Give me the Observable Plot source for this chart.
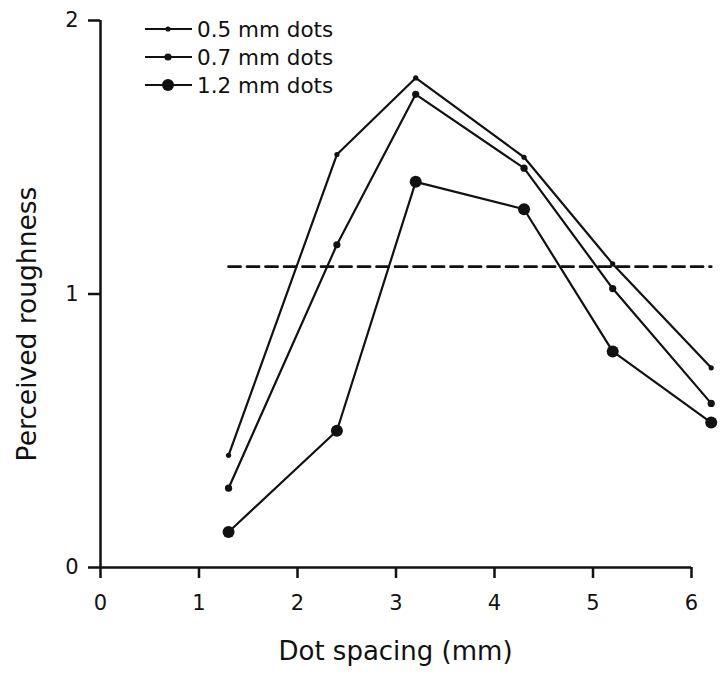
<!DOCTYPE html>
<html>
<head>
<meta charset="utf-8">
<script src="https://cdn.jsdelivr.net/npm/d3@7"></script>
<script src="https://cdn.jsdelivr.net/npm/@observablehq/plot@0.6"></script>
<style>
  html, body { margin: 0; padding: 0; background: #fff; }
  #chart svg { display: block; }
</style>
</head>
<body>
<div id="chart"></div>
<script>
// ---- data ----
const spacing = [1.3, 2.4, 3.2, 4.3, 5.2, 6.2];
const rough05 = [0.41, 1.51, 1.79, 1.50, 1.11, 0.73];
const rough07 = [0.29, 1.18, 1.73, 1.46, 1.02, 0.60];
const rough12 = [0.13, 0.50, 1.41, 1.31, 0.79, 0.53];
const seriesNames = ["0.5 mm dots", "0.7 mm dots", "1.2 mm dots"];
const referenceLevel = 1.10;
const referenceRange = [1.3, 6.2];
const xTicks = [0, 1, 2, 3, 4, 5, 6];
const yTicks = [0, 1, 2];
const xTitle = "Dot spacing (mm)";
const yTitle = "Perceived roughness";

// ---- build table ----
const seriesValues = [rough05, rough07, rough12];
const dotRadius = [2.6, 3.6, 6];
const rows = [];
seriesNames.forEach((name, i) => {
  spacing.forEach((x, j) => rows.push({series: name, x, y: seriesValues[i][j], r: dotRadius[i]}));
});
const refRows = referenceRange.map(x => ({x, y: referenceLevel}));

const FONT = "DejaVu Sans, Liberation Sans, Arial, sans-serif";
const INK = "#111";

function extras(index, scales, values, dims) {
  const g = d3.create("svg:g").attr("font-family", FONT).attr("fill", INK);
  // axis titles
  g.append("text")
    .attr("x", (dims.marginLeft + dims.width - dims.marginRight) / 2)
    .attr("y", 660)
    .attr("text-anchor", "middle")
    .attr("font-size", 26)
    .text(xTitle);
  g.append("text")
    .attr("transform", "translate(36,324) rotate(-90)")
    .attr("text-anchor", "middle")
    .attr("font-size", 26.5)
    .text(yTitle);
  // legend
  seriesNames.forEach((name, i) => {
    const cy = 29 + i * 28;
    g.append("line").attr("x1", 145).attr("x2", 192).attr("y1", cy).attr("y2", cy)
      .attr("stroke", INK).attr("stroke-width", 2.2);
    g.append("circle").attr("cx", 168).attr("cy", cy).attr("r", dotRadius[i]).attr("fill", INK);
    g.append("text").attr("x", 197).attr("y", cy).attr("dy", "0.36em")
      .attr("text-anchor", "start")
      .attr("font-size", 21.5).text(name);
  });
  return g.node();
}

const chart = Plot.plot({
  width: 728,
  height: 674,
  marginLeft: 100,
  marginRight: 37,
  marginTop: 20,
  marginBottom: 107,
  style: {fontFamily: FONT, color: INK, background: "#fff"},
  x: {domain: [0, 6]},
  y: {domain: [0, 2]},
  r: {type: "identity"},
  marks: [
    Plot.axisX({ticks: xTicks, tickSize: 11, tickPadding: 17, fontSize: 21, label: null, stroke: INK, strokeWidth: 2.5, tickFormat: d3.format("d")}),
    Plot.axisY({ticks: yTicks, tickSize: 12, tickPadding: 10, fontSize: 21, label: null, stroke: INK, strokeWidth: 2.5, tickFormat: d3.format("d")}),
    Plot.ruleX([0], {y1: 0, y2: 2, stroke: INK, strokeWidth: 2.5}),
    Plot.ruleY([0], {x1: 0, x2: 6, stroke: INK, strokeWidth: 2.5}),
    Plot.line(refRows, {x: "x", y: "y", stroke: INK, strokeWidth: 2.8, strokeDasharray: "12,6.5"}),
    Plot.line(rows, {x: "x", y: "y", z: "series", stroke: INK, strokeWidth: 2.2}),
    Plot.dot(rows, {x: "x", y: "y", r: "r", fill: INK, stroke: null}),
    extras
  ]
});
document.getElementById("chart").appendChild(chart);
</script>
</body>
</html>
